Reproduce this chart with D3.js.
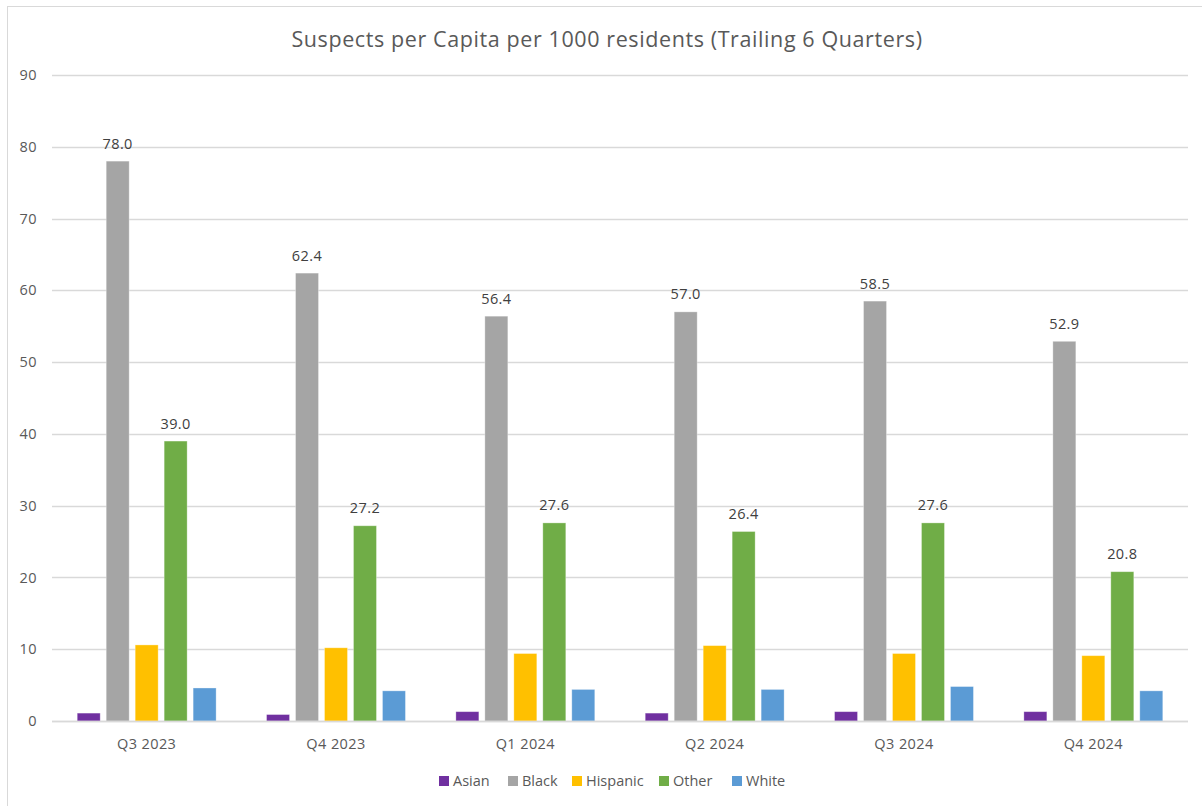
<!DOCTYPE html>
<html><head><meta charset="utf-8">
<script src="https://cdn.jsdelivr.net/npm/d3@7"></script>
<style>body{margin:0;background:#fff}svg{display:block}</style>
</head><body><svg id="c" width="1202" height="806"></svg>
<script>
const categories = ["Q3 2023","Q4 2023","Q1 2024","Q2 2024","Q3 2024","Q4 2024"];
const seriesNames = ["Asian","Black","Hispanic","Other","White"];
const asian    = [1.1, 0.9, 1.3, 1.1, 1.3, 1.3];
const black    = [78.0, 62.4, 56.4, 57.0, 58.5, 52.9];
const hispanic = [10.6, 10.2, 9.4, 10.5, 9.4, 9.1];
const other    = [39.0, 27.2, 27.6, 26.4, 27.6, 20.8];
const white    = [4.6, 4.2, 4.4, 4.4, 4.8, 4.2];
const colors   = ["#7030A0","#A5A5A5","#FFC000","#70AD47","#5B9BD5"];
const labeled  = [false, true, false, true, false];
const yTicks   = [0,10,20,30,40,50,60,70,80,90];
const title = "Suspects per Capita per 1000 residents (Trailing 6 Quarters)";

const values = [asian, black, hispanic, other, white];
const FONT = "'Open Sans', sans-serif";
const svg = d3.select("#c");
svg.append("rect").attr("x",7.5).attr("y",6.5).attr("width",1300).attr("height",900)
  .attr("fill","#fff").attr("stroke","#d9d9d9");

const L=52, R=1188, T=75, B=721;
const x0 = d3.scaleBand().domain(categories).range([L,R]).padding(0);
const x1 = d3.scaleBand().domain(seriesNames).range([0,x0.bandwidth()]).paddingInner(0.207).paddingOuter(0.87);
const y = d3.scaleLinear().domain([0,90]).range([B,T]);

svg.append("text").attr("x",607).attr("y",47).attr("text-anchor","middle")
  .attr("font-family",FONT).attr("font-size",21.5).attr("letter-spacing",0.6)
  .attr("fill","#595959").text(title);

svg.append("g").selectAll("line").data(yTicks).join("line")
  .attr("x1",L).attr("x2",R).attr("y1",d=>Math.round(y(d))+0.5).attr("y2",d=>Math.round(y(d))+0.5)
  .attr("stroke","#d9d9d9").attr("stroke-width",1.3);
svg.append("g").selectAll("text").data(yTicks).join("text")
  .attr("x",37).attr("y",d=>y(d)).attr("dy","0.35em").attr("text-anchor","end")
  .attr("font-family",FONT).attr("font-size",14.5).attr("letter-spacing",0.4).attr("fill","#595959").text(d=>d);

const g = svg.append("g");
categories.forEach((c,i)=>{
  seriesNames.forEach((s,j)=>{
    const v = values[j][i];
    g.append("rect").attr("x",x0(c)+x1(s)).attr("y",y(v)).attr("width",x1.bandwidth())
      .attr("height",B-y(v)).attr("fill",colors[j]).attr("stroke","#ffffff").attr("stroke-opacity",0.4).attr("stroke-width",0.8);
    if(labeled[j]){
      g.append("text").attr("x",x0(c)+x1(s)+x1.bandwidth()/2).attr("y",y(v)-12.5)
        .attr("text-anchor","middle").attr("font-family",FONT).attr("font-size",14.5).attr("letter-spacing",0.4)
        .attr("fill","#404040").text(v.toFixed(1));
    }
  });
});
svg.append("line").attr("x1",L).attr("x2",R).attr("y1",B+0.5).attr("y2",B+0.5).attr("stroke","#d9d9d9").attr("stroke-width",1.3);

svg.append("g").selectAll("text").data(categories).join("text")
  .attr("x",d=>x0(d)+x0.bandwidth()/2).attr("y",749).attr("text-anchor","middle")
  .attr("font-family",FONT).attr("font-size",14.5).attr("letter-spacing",0.4).attr("fill","#595959").text(d=>d);

const legX = [439,508,572,659,732];
const leg = svg.append("g");
seriesNames.forEach((s,j)=>{
  leg.append("rect").attr("x",legX[j]).attr("y",776).attr("width",10).attr("height",10).attr("fill",colors[j]);
  leg.append("text").attr("x",legX[j]+14).attr("y",781).attr("dy","0.35em")
    .attr("font-family",FONT).attr("font-size",14.5).attr("fill","#595959").text(s);
});
</script></body></html>
